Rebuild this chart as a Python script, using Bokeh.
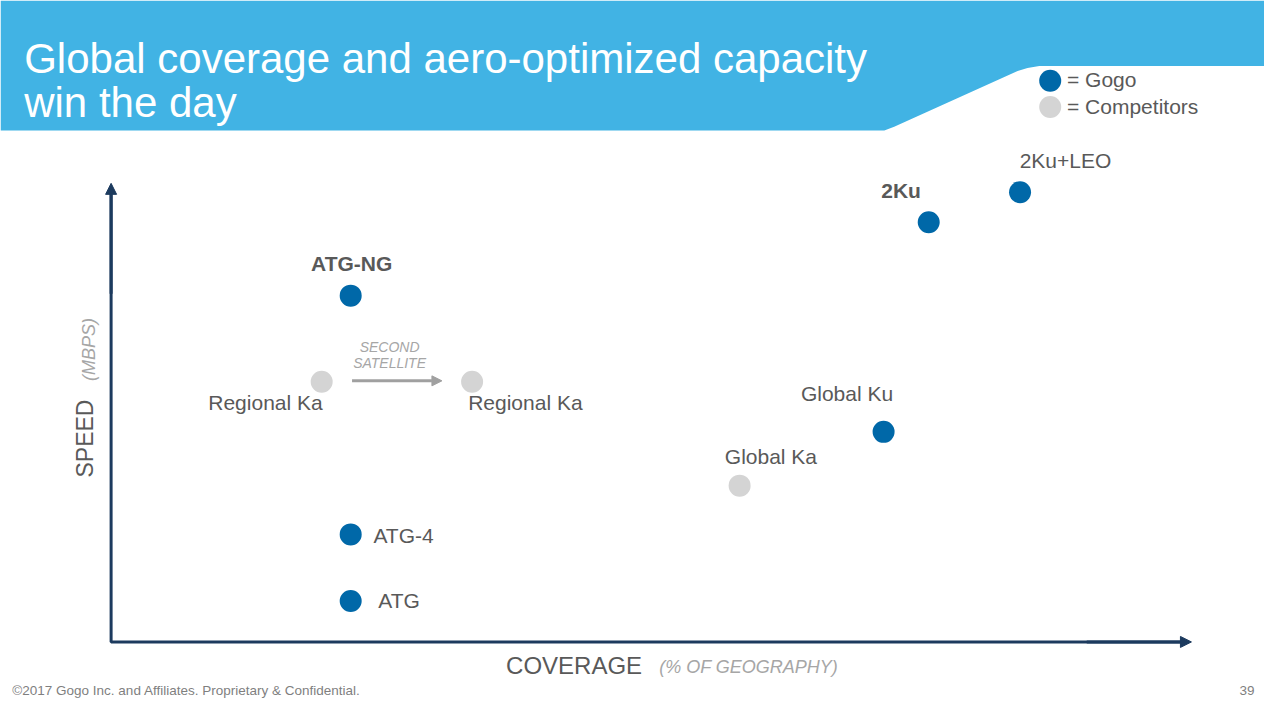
from math import pi
from bokeh.plotting import figure
from bokeh.models import Range1d, Arrow, NormalHead
from bokeh.core.properties import value
from bokeh.embed import file_html
from bokeh.resources import INLINE

# ---------------- data ----------------
names = ["ATG-NG", "Regional Ka", "Regional Ka", "ATG-4", "ATG",
         "Global Ka", "Global Ku", "2Ku", "2Ku+LEO"]
coverage = [22.3, 19.6, 33.6, 22.3, 22.3, 58.5, 71.9, 76.1, 84.6]
speed = [76.0, 57.1, 57.1, 23.6, 9.0, 34.3, 46.1, 92.1, 98.7]
provider = ["Gogo", "Competitor", "Competitor", "Gogo", "Gogo",
            "Competitor", "Gogo", "Gogo", "Gogo"]
legend_labels = ["= Gogo", "= Competitors"]
title_lines = ["Global coverage and aero-optimized capacity", "win the day"]

# ---------------- layout / styles ----------------
GOGO = "#0068A8"
COMP = "#D4D4D4"
BANNER = "#41B3E4"
AXIS = "#1C3A5E"
DARK = "#595959"
LIGHT = "#A6A6A6"
FONT = "Liberation Sans"
colors = {"Gogo": GOGO, "Competitor": COMP}

# slide-pixel helpers (origin of axes at px (112, 656))
KX, KY, X0, Y0 = 10.88, 4.66, 112.0, 656.0
def X(px):
    return (px - X0) / KX
def Y(py):
    return (Y0 - py) / KY

BFIX = 0.42  # baseline correction (fraction of font size)

# label placement: (dx px, dy px to baseline, align, bold)
label_pos = [(1, -24, "center", True), (1, 30, "right", False), (-4, 30, "left", False),
             (23, 10, "left", False), (28, 8, "left", False), (-15, -21, "left", False),
             (-37, -30, "center", False), (-28, -24, "center", True), (46, -24, "center", False)]

p = figure(width=1264, height=704, output_backend="svg", toolbar_location=None,
           x_range=Range1d(X(0), X(1280)), y_range=Range1d(Y(720), Y(0)),
           min_border=0, x_axis_location=None, y_axis_location=None,
           background_fill_color="white", border_fill_color="white")
p.grid.visible = False
p.outline_line_color = None

# banner
bx = [0, 1280, 1280, 1052, 1040, 1030, 905, 895, 0]
by = [0, 0, 67, 67, 69, 72, 129, 133, 133]
p.patch([X(v) for v in bx], [Y(v) for v in by], fill_color=BANNER, line_color=None)

def txt(px, py, s, size, color=DARK, align="left", style="normal", angle=0, fix=BFIX):
    if angle:
        px = px - fix * size
    else:
        py = py - fix * size
    p.text(x=[X(px)], y=[Y(py)], text=[s], text_font=value(FONT),
           text_font_size=value(f"{size}px"), text_color=color, text_align=align,
           text_baseline="alphabetic", text_font_style=style, angle=angle)

# title
txt(24, 72, title_lines[0], 42, "white", fix=0.30)
txt(24, 117, title_lines[1], 42, "white", fix=0.30)

# legend
p.scatter([X(1063), X(1063)], [Y(82), Y(109)], size=22,
          fill_color=[GOGO, COMP], line_color=None)
txt(1080, 90, legend_labels[0], 21)
txt(1080, 117, legend_labels[1], 21)

# axes
p.line([X(112), X(112), X(1200)], [Y(192), Y(656), Y(656)], line_color=AXIS, line_width=3)
p.add_layout(Arrow(x_start=X(112), y_start=Y(300), x_end=X(112), y_end=Y(187),
                   line_color=AXIS, line_width=3,
                   end=NormalHead(size=11, fill_color=AXIS, line_color=AXIS)))
p.add_layout(Arrow(x_start=X(1100), y_start=Y(656), x_end=X(1206), y_end=Y(656),
                   line_color=AXIS, line_width=3,
                   end=NormalHead(size=11, fill_color=AXIS, line_color=AXIS)))

# axis titles
txt(95, 448, "SPEED", 23, DARK, "center", angle=pi / 2)
txt(97, 357, "(MBPS)", 18, LIGHT, "center", "italic", angle=pi / 2)
txt(512, 690, "COVERAGE", 24)
txt(667, 689, "(% OF GEOGRAPHY)", 18, LIGHT, "left", "italic")

# second satellite arrow
p.add_layout(Arrow(x_start=X(356), y_start=Y(389), x_end=X(447), y_end=Y(389),
                   line_color="#A0A0A0", line_width=3,
                   end=NormalHead(size=10, fill_color="#A0A0A0", line_color="#A0A0A0")))
txt(394, 360, "SECOND", 14, LIGHT, "center", "italic")
txt(394, 377, "SATELLITE", 14, LIGHT, "center", "italic")

# points
p.scatter(coverage, speed, size=22, fill_color=[colors[v] for v in provider], line_color=None)

# point labels
for n, c, s, (dx, dy, al, bold) in zip(names, coverage, speed, label_pos):
    p.text(x=[c + dx / KX], y=[s - (dy - BFIX * 21) / KY], text=[n], text_font=value(FONT),
           text_font_size=value("21px"), text_color=DARK, text_align=al,
           text_baseline="alphabetic", text_font_style="bold" if bold else "normal")

# footer
txt(12, 711, "\u00a92017 Gogo Inc. and Affiliates. Proprietary & Confidential.", 13.5, "#7F7F7F")
txt(1270, 711, "39", 13.5, "#7F7F7F", "right")

open("out.html", "w").write(file_html(p, INLINE))
